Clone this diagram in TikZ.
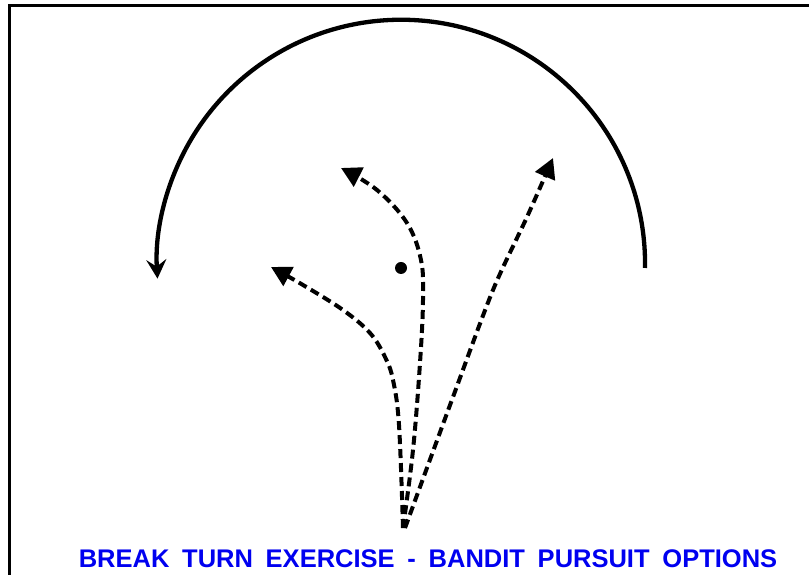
\documentclass[tikz,border=0pt]{standalone}
\usepackage{fontspec}
\setmainfont{Liberation Sans}
\usetikzlibrary{arrows.meta}
\definecolor{titleblue}{RGB}{0,0,240}
\begin{document}
\begin{tikzpicture}[x=1pt,y=1pt,
  frame/.style={line width=3pt},
  turn/.style={line width=4.3pt,-{Stealth[length=19pt,width=20pt,inset=7pt]}},
  pursuit/.style={line width=4pt,dash pattern=on 9pt off 5pt,-{Triangle[length=20pt,width=21pt]}},
  title/.style={text=titleblue,font=\bfseries\fontsize{25.5}{29}\selectfont}]
\useasboundingbox (0,0) rectangle (809,575);
\draw[frame] (812,569) -- (9,569) -- (9,-3);
% break turn arc
\coordinate (arcstart) at (645,307);
\draw[turn] (arcstart) arc[start angle=-1,end angle=183.5,radius=244];
% bandit position
\fill (401,307) circle[radius=6];
\coordinate (origin) at (403,47);
% pursuit options
\draw[pursuit] plot[smooth,tension=0.6] coordinates {(403,47) (399,150) (393,195) (385,218) (370,242) (343,265) (303,290) (271,308)};
\draw[pursuit] plot[smooth,tension=0.6] coordinates {(403,47) (413,125) (420,212) (423,275) (421,315) (407,352) (377,385) (341,407)};
\draw[pursuit] plot[smooth,tension=0.5] coordinates {(405,47) (453,178) (493,285) (527,358) (553,417)};
\node[title] (caption) at (428,16) {BREAK\hspace{0.5em}TURN\hspace{0.5em}EXERCISE\hspace{0.5em}-\hspace{0.5em}BANDIT\hspace{0.5em}PURSUIT\hspace{0.5em}OPTIONS};
\end{tikzpicture}
\end{document}
